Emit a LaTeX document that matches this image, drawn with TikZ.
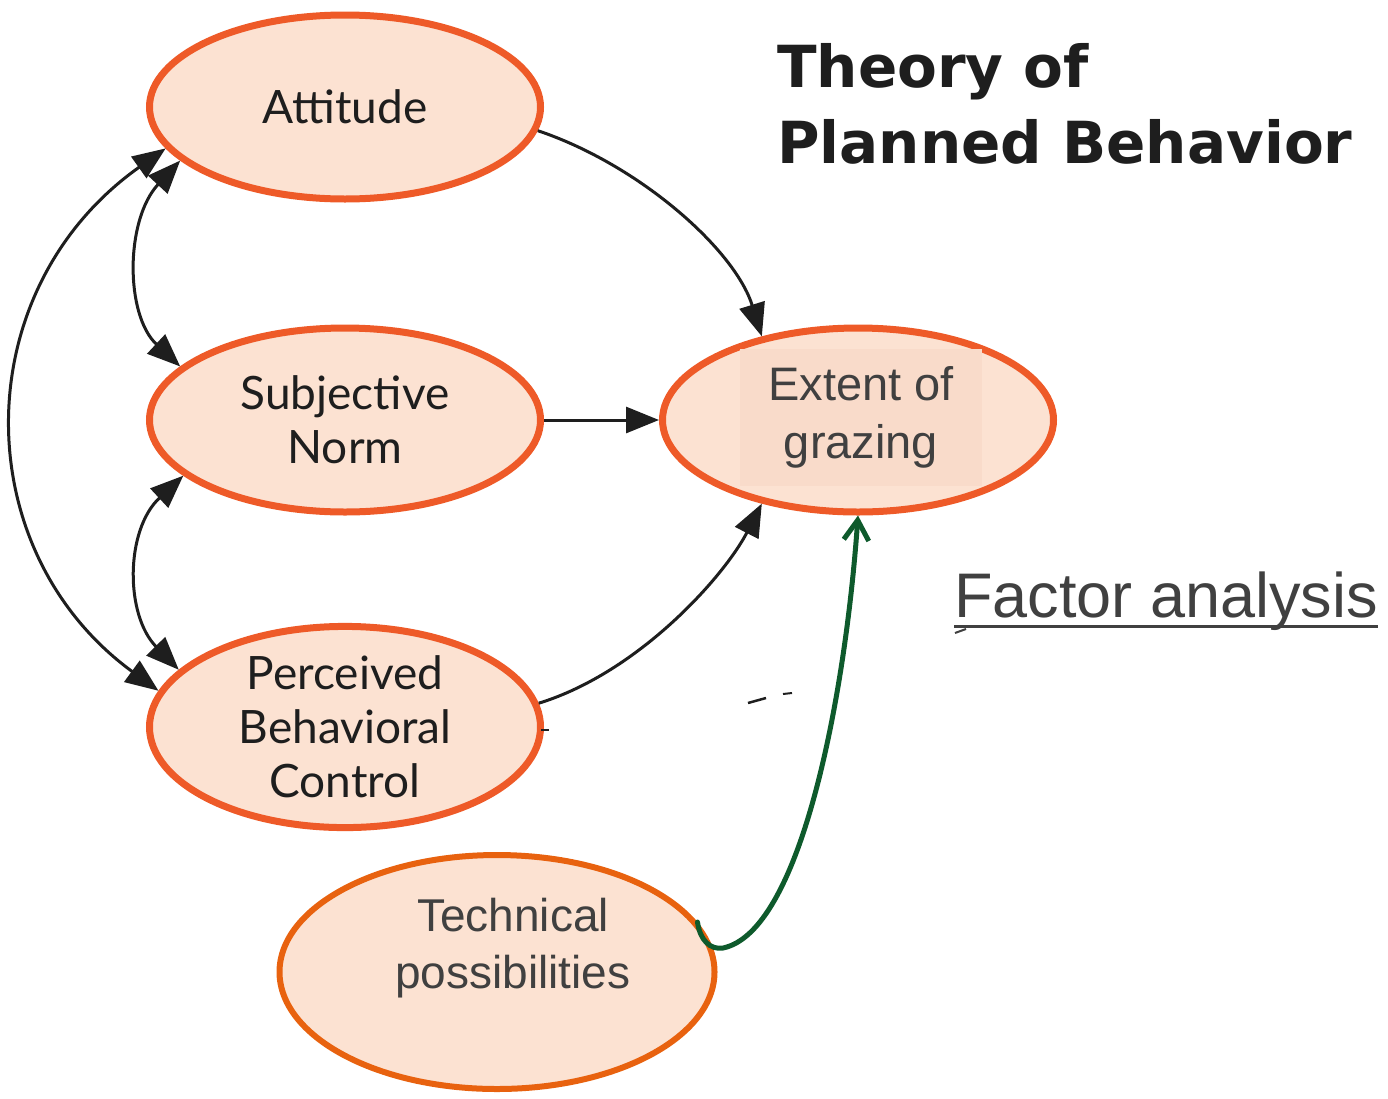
\documentclass[tikz,border=0pt]{standalone}
\usepackage{fontspec}
\usetikzlibrary{shapes.geometric,arrows.meta}
\newfontfamily\humanist{Lato}
\newfontfamily\arialish{Liberation Sans}
\newfontfamily\heavy{DejaVu Sans}
\definecolor{ringorange}{HTML}{EE5A28}
\definecolor{techorange}{HTML}{E8620F}
\definecolor{bubble}{HTML}{FCE2D2}
\definecolor{panel}{HTML}{F9DBCA}
\definecolor{ink}{HTML}{1E1E1E}
\definecolor{greytext}{HTML}{404040}
\definecolor{pathgreen}{HTML}{0E5A2C}
\begin{document}
\begin{tikzpicture}[x=1pt,y=-1pt,
  bubblenode/.style={ellipse, draw=ringorange, line width=7pt, fill=bubble,
    inner sep=0pt, minimum width=391pt, minimum height=184pt, align=center,
    font=\humanist\fontsize{46}{54}\selectfont, text=ink},
  link/.style={draw=ink, line width=3pt, -{Triangle[length=33pt,width=26pt]}},
  twoway/.style={draw=ink, line width=3pt,
    {Triangle[length=33pt,width=26pt]}-{Triangle[length=33pt,width=26pt]}},
  greenlink/.style={draw=pathgreen, line width=5pt, line cap=round,
    -{Straight Barb[length=20pt,width=25pt]}},
  graylabel/.style={text=greytext, align=center,
    font=\arialish\fontsize{46}{57}\selectfont},
]
\useasboundingbox (0,0) rectangle (1388,1098);

% title
\node[anchor=base west, inner sep=0pt, text=ink, font=\heavy\bfseries\fontsize{58}{68}\selectfont]
  (title1) at (777,87) {Theory of};
\node[anchor=base west, inner sep=0pt, text=ink, font=\heavy\bfseries\fontsize{58}{68}\selectfont]
  (title2) at (777,163) {Planned Behavior};

% the three antecedents
\node[bubblenode] (att)  at (345,107) {Attitude};
\node[bubblenode] (norm) at (345,420) {Subjective\\Norm};
\node[bubblenode] (pbc)  at (345,727) {Perceived\\Behavioral\\Control};

% outcome
\node[bubblenode] (ext) at (858,420) {};
\node[graylabel, fill=panel, minimum width=242pt, minimum height=137pt, inner sep=0pt,
  font=\arialish\fontsize{47}{58}\selectfont] (extlabel) at (861,417) {Extent of\\grazing};

% additional factor
\node[ellipse, draw=techorange, line width=6pt, fill=bubble, inner sep=0pt,
  minimum width=435pt, minimum height=234pt] (tech) at (497,972) {};
\node[graylabel] (techlabel) at (513,948) {Technical\\possibilities};

% factor analysis label
\node[anchor=base west, inner sep=0pt, text=greytext,
  font=\arialish\fontsize{63}{70}\selectfont] (fa) at (954,617) {Factor analysis};
\draw[greytext, line width=3pt] ([yshift=-9pt]fa.base west) -- ([yshift=-9pt]fa.base east);

% direct effects
\draw[link] (att.-7) .. controls (640,165) and (735,250) .. (ext.139);
\draw[link] (norm.east) -- (ext.west);
\draw[link] (pbc.7) .. controls (640,672) and (725,575) .. (ext.-139);

% correlations between antecedents
\draw[twoway] (att.-162) .. controls (125,220) and (125,315) .. (norm.162);
\draw[twoway] (norm.-161) .. controls (125,530) and (125,615) .. (pbc.161);
\draw[twoway] (att.-167) .. controls (-34,290) and (-34,550) .. (pbc.169);

% technical possibilities feeding the outcome
\coordinate (gbend) at (723,948);
\draw[greenlink] (tech.14) .. controls (700,940) and (710,950) .. (gbend)
  .. controls (800,932) and (845,700) .. (ext.south);

% stray strokes
\draw[ink, line width=2.5pt] (748,703) -- (766,698);
\draw[ink, line width=2pt] (783,694) -- (792,693);
\draw[ink, line width=2.5pt] (541,730) -- (549,730);
\draw[greytext, line width=2pt] (955,633) -- (966,629);
\end{tikzpicture}
\end{document}
